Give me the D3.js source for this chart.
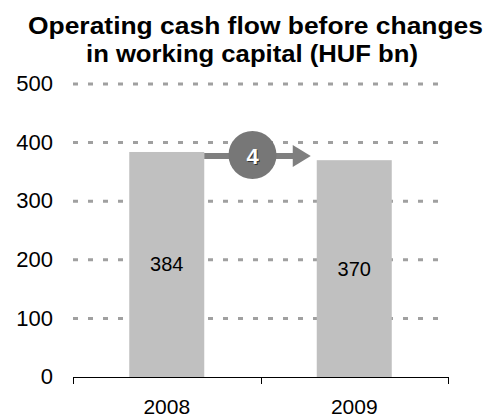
<!DOCTYPE html>
<html lang="en">
<head>
  <meta charset="utf-8">
  <title>Operating cash flow</title>
  <script src="https://cdn.jsdelivr.net/npm/d3@7/dist/d3.min.js"></script>
  <style>
    * { margin: 0; padding: 0; }
    body { background: #fff; }
    text { font-family: "Liberation Sans", Arial, sans-serif; }
  </style>
</head>
<body>
  <div id="chart"></div>
  <script>
    // chart data
    var years = ["2008", "2009"];
    var values = [384, 370];
    var yTicks = [0, 100, 200, 300, 400, 500];
    var titleLines = ["Operating cash flow before changes", "in working capital (HUF bn)"];
    var markerLabel = "4";

    var svgWidth = 489, svgHeight = 419;
    var margin = { top: 84, right: 41, bottom: 42, left: 73 };

    var svg = d3.select("#chart").append("svg")
      .attr("width", svgWidth)
      .attr("height", svgHeight);

    // title
    var titleWidths = [455, 332];
    svg.append("g").selectAll("text")
      .data(titleLines)
      .enter().append("text")
      .attr("x", function (d, i) { return i === 0 ? 255.5 : 252; })
      .attr("y", function (d, i) { return 34 + i * 28; })
      .attr("text-anchor", "middle")
      .attr("font-size", "23px")
      .attr("font-weight", "bold")
      .attr("fill", "#000")
      .attr("textLength", function (d, i) { return titleWidths[i]; })
      .attr("lengthAdjust", "spacingAndGlyphs")
      .text(function (d) { return d; });

    var x = d3.scaleBand()
      .domain(years)
      .range([margin.left, svgWidth - margin.right])
      .paddingInner(0.6)
      .paddingOuter(0.3);

    var y = d3.scaleLinear()
      .domain([0, 500])
      .range([svgHeight - margin.bottom, margin.top]);

    // dashed grid lines
    svg.append("g").selectAll("line")
      .data(yTicks.filter(function (d) { return d > 0; }))
      .enter().append("line")
      .attr("x1", margin.left)
      .attr("x2", svgWidth - margin.right)
      .attr("y1", function (d) { return y(d); })
      .attr("y2", function (d) { return y(d); })
      .attr("stroke", "#a0a0a0")
      .attr("stroke-width", 3)
      .attr("stroke-dasharray", "5,10");

    // y labels
    var yAxis = d3.axisLeft(y).tickValues(yTicks).tickSize(0).tickPadding(20);
    var yG = svg.append("g")
      .attr("transform", "translate(" + margin.left + ",0)")
      .call(yAxis);
    yG.select(".domain").remove();
    yG.selectAll("text")
      .attr("font-size", "22px")
      .attr("dy", "0.3em")
      .attr("fill", "#000")
      .attr("font-family", "Liberation Sans, Arial, sans-serif");

    // bars
    svg.append("g").selectAll("rect")
      .data(values)
      .enter().append("rect")
      .attr("x", function (d, i) { return x(years[i]); })
      .attr("y", function (d) { return y(d); })
      .attr("width", x.bandwidth())
      .attr("height", function (d) { return y(0) - y(d); })
      .attr("fill", "#c0c0c0");

    // value labels
    svg.append("g").selectAll("text")
      .data(values)
      .enter().append("text")
      .attr("x", function (d, i) { return x(years[i]) + x.bandwidth() / 2; })
      .attr("y", function (d) { return (y(d) + y(0)) / 2; })
      .attr("dy", "0.35em")
      .attr("text-anchor", "middle")
      .attr("font-size", "20px")
      .attr("fill", "#000")
      .text(function (d) { return d; });

    // x axis
    var xAxis = d3.axisBottom(x).tickSize(0);
    var xG = svg.append("g")
      .attr("transform", "translate(0," + y(0) + ")")
      .call(xAxis);
    xG.select(".domain").remove();
    xG.selectAll("text")
      .attr("y", 37)
      .attr("dy", 0)
      .attr("font-size", "21px")
      .attr("fill", "#000")
      .attr("font-family", "Liberation Sans, Arial, sans-serif");
    xG.append("line")
      .attr("x1", margin.left).attr("x2", svgWidth - margin.right)
      .attr("y1", 0.5).attr("y2", 0.5)
      .attr("stroke", "#000").attr("stroke-width", 1);
    // tick marks sit on the category boundaries
    var bounds = [margin.left, margin.left + x.step() * (x.paddingOuter() + 1 - x.paddingInner() / 2) , svgWidth - margin.right];
    xG.selectAll(".bound")
      .data(bounds)
      .enter().append("line")
      .attr("class", "bound")
      .attr("x1", function (d) { return Math.round(d) + 0.5; })
      .attr("x2", function (d) { return Math.round(d) + 0.5; })
      .attr("y1", 0).attr("y2", 7)
      .attr("stroke", "#000").attr("stroke-width", 1);

    // change arrow with marker circle
    var ay = y(values[0]) + 4;
    var ax0 = x(years[0]) + x.bandwidth();
    var ax1 = x(years[1]) - 6;
    var arrow = svg.append("g");
    arrow.append("line")
      .attr("x1", ax0).attr("x2", ax1 - 16)
      .attr("y1", ay).attr("y2", ay)
      .attr("stroke", "#7f7f7f").attr("stroke-width", 6);
    arrow.append("path")
      .attr("d", "M" + (ax1 - 18) + "," + (ay - 11) + "L" + ax1 + "," + ay + "L" + (ax1 - 18) + "," + (ay + 11) + "Z")
      .attr("fill", "#7f7f7f");
    var cx = (margin.left + svgWidth - margin.right) / 2 - 8;
    arrow.append("circle")
      .attr("cx", cx).attr("cy", ay - 1)
      .attr("r", 24)
      .attr("fill", "#777777");
    arrow.append("text")
      .attr("x", cx + 1).attr("y", ay + 1)
      .attr("dy", "0.35em")
      .attr("text-anchor", "middle")
      .attr("font-size", "22px")
      .attr("font-weight", "bold")
      .attr("fill", "#333")
      .text(markerLabel);
    arrow.append("text")
      .attr("x", cx).attr("y", ay)
      .attr("dy", "0.35em")
      .attr("text-anchor", "middle")
      .attr("font-size", "22px")
      .attr("font-weight", "bold")
      .attr("fill", "#fff")
      .text(markerLabel);
  </script>
</body>
</html>
